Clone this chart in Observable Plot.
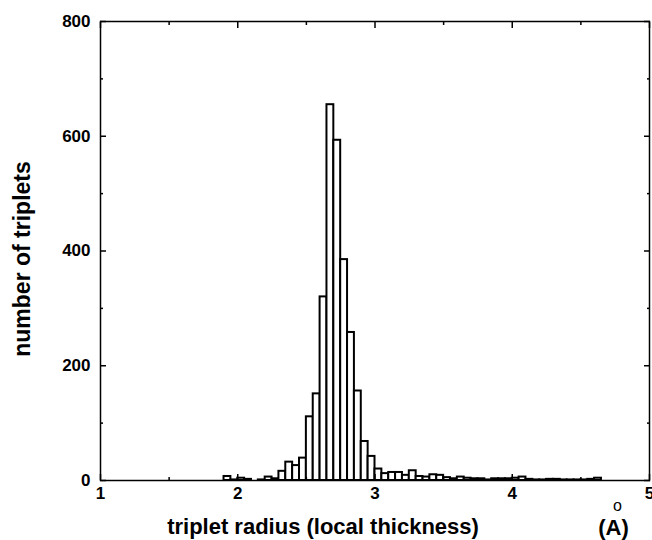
<!DOCTYPE html>
<html>
<head>
<meta charset="utf-8">
<script src="https://cdn.jsdelivr.net/npm/d3@7"></script>
<script src="https://cdn.jsdelivr.net/npm/@observablehq/plot@0.6"></script>
<style>
  html, body { margin: 0; padding: 0; background: white; }
  #chart { width: 652px; height: 540px; }
</style>
</head>
<body>
<div id="chart"></div>
<script>
// Histogram bins (left edges, Å) and counts
const binWidth = 0.05;
const binStarts = [1.90,1.95,2.00,2.05,2.10,2.15,2.20,2.25,2.30,2.35,2.40,2.45,2.50,2.55,2.60,2.65,2.70,2.75,2.80,2.85,2.90,2.95,3.00,3.05,3.10,3.15,3.20,3.25,3.30,3.35,3.40,3.45,3.50,3.55,3.60,3.65,3.70,3.75,3.80,3.85,3.90,3.95,4.00,4.05,4.10,4.15,4.20,4.25,4.30,4.35,4.40,4.45,4.50,4.55,4.60];
const counts    = [7,1,4,2,0,1,6,3,16,32,26,39,111,151,320,655,593,385,258,156,68,42,20,12,14,14,9,17,7,6,10,9,5,3,6,4,3,3,1,3,3,3,4,6,2,1,1,2,2,1,1,1,1,2,4];

const xMajorTicks = [1, 2, 3, 4, 5];
const xMinorTicks = [1.5, 2.5, 3.5, 4.5];
const yMajorTicks = [0, 200, 400, 600, 800];
const yMinorTicks = [100, 300, 500, 700];
const xLabel = "triplet radius (local thickness)";
const yLabel = "number of triplets";
const unitLabel = "(A)";
const unitRing = "o";

const bins = binStarts.map((x0, i) => ({x1: x0, x2: +(x0 + binWidth).toFixed(2), count: counts[i]}));

const tickAxes = [];
for (const anchor of ["bottom", "top"]) {
  tickAxes.push(Plot.axisX(xMajorTicks, {anchor, tickSize: -6, fill: "none", label: null, strokeWidth: 1.5}));
  tickAxes.push(Plot.axisX(xMinorTicks, {anchor, tickSize: -3, fill: "none", label: null, strokeWidth: 1.5}));
}
for (const anchor of ["left", "right"]) {
  tickAxes.push(Plot.axisY(yMajorTicks, {anchor, tickSize: -6, fill: "none", label: null, strokeWidth: 1.5}));
  tickAxes.push(Plot.axisY(yMinorTicks, {anchor, tickSize: -3, fill: "none", label: null, strokeWidth: 1.5}));
}

const chart = Plot.plot({
  width: 652,
  height: 540,
  marginLeft: 100,
  marginRight: 3,
  marginTop: 21,
  marginBottom: 60,
  style: {fontFamily: "'Liberation Sans', Arial, sans-serif", fontSize: "16px", background: "white", color: "black"},
  x: {domain: [1, 5]},
  y: {domain: [0, 800]},
  marks: [
    Plot.rectY(bins, {x1: "x1", x2: "x2", y: "count", fill: "white", stroke: "black", strokeWidth: 2}),
    ...tickAxes,
    Plot.axisX(xMajorTicks, {anchor: "bottom", tickSize: 0, tickPadding: 6, label: null, fontWeight: "bold", fontSize: 17, tickFormat: d => String(d)}),
    Plot.axisY(yMajorTicks, {anchor: "left", tickSize: 0, tickPadding: 10, label: null, fontWeight: "bold", fontSize: 17, tickFormat: d => String(d)}),
    Plot.frame({stroke: "black", strokeWidth: 1.5}),
    Plot.text([xLabel], {text: d => d, frameAnchor: "bottom", textAnchor: "middle", lineAnchor: "bottom", dx: -52, dy: 53, fontSize: 22, fontWeight: "bold"}),
    Plot.text([unitLabel], {text: d => d, frameAnchor: "bottom-right", textAnchor: "middle", lineAnchor: "bottom", dx: -36, dy: 54, fontSize: 22, fontWeight: "bold"}),
    Plot.text([unitRing], {text: d => d, frameAnchor: "bottom-right", textAnchor: "middle", lineAnchor: "bottom", dx: -32, dy: 30, fontSize: 16}),
    Plot.text([yLabel], {text: d => d, frameAnchor: "left", textAnchor: "middle", rotate: -90, dx: -78, dy: 8, fontSize: 23, fontWeight: "bold"})
  ]
});
document.getElementById("chart").appendChild(chart);
</script>
</body>
</html>
